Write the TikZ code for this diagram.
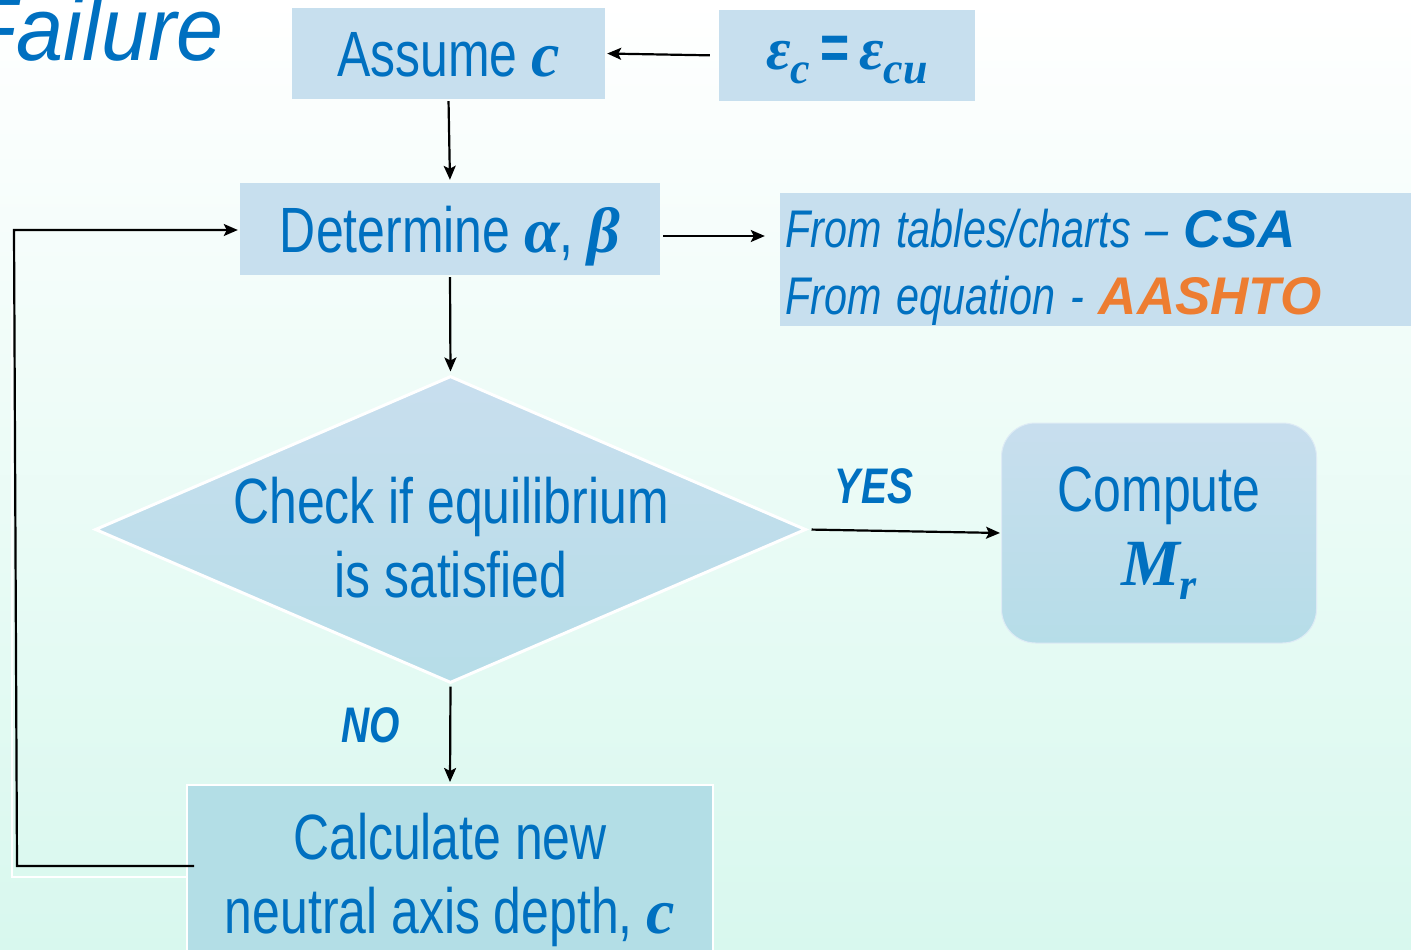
\documentclass[tikz,border=0pt]{standalone}
\usepackage{fontspec}
\setmainfont{Liberation Sans}[FakeStretch=0.78]
\newfontfamily\widef{Liberation Sans}
\newfontfamily\titlef{Liberation Sans}[FakeStretch=0.94]
\newfontfamily\serf{Liberation Serif}
\usetikzlibrary{arrows.meta,shapes.geometric}
\definecolor{tblue}{HTML}{0070C0}
\definecolor{orng}{HTML}{ED7D31}
\definecolor{boxb}{HTML}{C7DFEE}
\definecolor{calcb}{HTML}{B3DEE6}
\definecolor{dtop}{HTML}{C8DEEE}
\definecolor{dbot}{HTML}{B6DDE8}
\definecolor{bgb}{HTML}{D8F8EE}
\newcommand{\mvar}[1]{{\serf\bfseries\itshape #1}}
\newcommand{\msubsc}[1]{\raisebox{-0.22em}{\fontsize{44}{44}\selectfont\mvar{#1}}}
\newcommand{\isp}{\hspace{15pt}}
\tikzset{
  boxnode/.style={rectangle, fill=boxb, inner sep=0pt, text=tblue, font=\fontsize{64}{74}\selectfont},
  arr/.style={draw=black, line width=2.2pt, -{Stealth[length=14pt,width=12pt,inset=3pt]}},
  lbl/.style={text=tblue, inner sep=0pt, anchor=base, font=\fontsize{50}{50}\selectfont\bfseries\itshape}
}
\begin{document}
\begin{tikzpicture}[x=1pt,y=-1pt]
\shade[top color=white, bottom color=bgb] (0,0) rectangle (1411,950);
\useasboundingbox (0,0) rectangle (1411,950);

\node[anchor=base east, inner sep=0pt, text=tblue, font=\fontsize{90}{90}\selectfont\titlef\itshape] (title) at (224,60) {Failure};

\node[boxnode, minimum width=313pt, minimum height=91pt, text height=46pt, text depth=0pt] (assume) at (448.5,53.5) {Assume \mvar{c}};
\node[boxnode, minimum width=256pt, minimum height=91pt, text height=29pt, text depth=0pt, font=\fontsize{60}{70}\selectfont] (eps) at (847,55.5) {\mvar{ε}\msubsc{c}\,{\fontsize{64}{70}\selectfont\textbf{=}}\,\mvar{ε}\msubsc{cu}};
\node[boxnode, minimum width=420pt, minimum height=92pt, text height=46pt, text depth=0pt] (det) at (450,229) {Determine \mvar{α}, \mvar{β}};
\node[boxnode, minimum width=631pt, minimum height=133pt, align=left, text width=621pt, inner xsep=5pt, font=\fontsize{53}{67}\selectfont\itshape] (from) at (1095.5,259.5) {\rule{0pt}{54pt}From\isp tables/charts\isp –\isp{\widef\bfseries\itshape CSA}\\From\isp equation\isp -\isp{\widef\bfseries\itshape\color{orng}AASHTO}};

\node[diamond, top color=dtop, bottom color=dbot, draw=white, line width=3pt, minimum width=711pt, minimum height=307pt, inner sep=0pt] (dec) at (450.5,529.5) {};
\node[inner sep=0pt, align=center, text=tblue, font=\fontsize{64}{74}\selectfont] (dtxt) at (451,538) {Check if equilibrium\\is satisfied};

\node[rectangle, rounded corners=34pt, top color=dtop, bottom color=dbot, draw=dtop!60!white, line width=1pt, minimum width=315pt, minimum height=220pt, inner sep=0pt, align=center, text=tblue, font=\fontsize{64}{74}\selectfont] (comp) at (1159,533) {Compute\\\fontsize{66}{74}\selectfont\mvar{M}\msubsc{r}};

\node[boxnode, fill=calcb, draw=white, line width=2pt, minimum width=526pt, minimum height=190pt, align=center] (calc) at (450,880) {Calculate new\\neutral axis depth, \mvar{c}};

\node[lbl] (yes) at (874,503) {YES};
\node[lbl] (no) at (371,742) {NO};

\draw[arr, shorten <=9pt, shorten >=2pt] (eps.west) -- (assume.east);
\draw[arr, shorten <=2pt, shorten >=3pt] (assume.south) -- (det.north);
\draw[arr, shorten <=3pt, shorten >=15pt] ([yshift=-7pt]det.east) -- ([yshift=-7pt]det.east -| from.west);
\draw[arr, shorten <=2pt, shorten >=3pt] (det.south) -- (dec.north);
\draw[arr, shorten <=4pt, shorten >=1pt] (dec.east) -- (comp.west);
\draw[arr, shorten <=2pt, shorten >=2pt] (dec.south) -- (calc.north);

\coordinate (lc1) at (17,866);
\coordinate (lc2) at (14,230);
\draw[white, line width=2pt] (12,300) -- (12,877) -- (calc.west |- 0,877);
\draw[arr, shorten >=2pt] ([xshift=8pt,yshift=14pt]calc.west) -- (lc1) -- (lc2) -- (lc2 -| det.west);
\end{tikzpicture}
\end{document}
